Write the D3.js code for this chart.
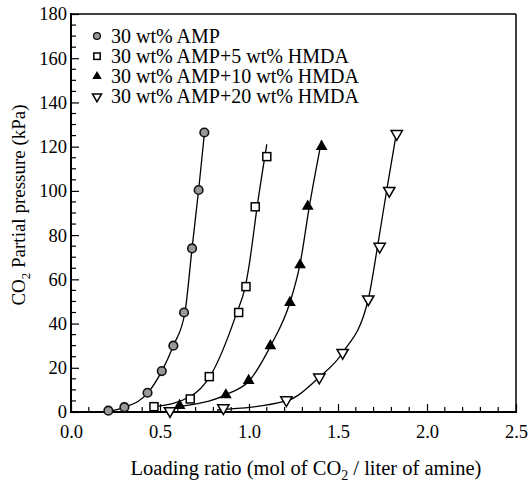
<!DOCTYPE html>
<html>
<head>
<meta charset="utf-8">
<script src="https://cdn.jsdelivr.net/npm/d3@7"></script>
<style>
body { margin:0; background:#fff; }
text { font-family:"Liberation Serif","Times New Roman",serif; fill:#000; }
</style>
</head>
<body>
<svg id="chart" width="529" height="485"></svg>
<script>
var ampX=[0.21,0.30,0.43,0.51,0.575,0.635,0.68,0.717,0.749];
var ampY=[0.6,2.2,8.7,18.5,30,45,74,100.4,126.4];
var hmda5X=[0.466,0.67,0.777,0.942,0.983,1.035,1.10];
var hmda5Y=[2.4,5.9,16,45,56.7,92.8,115.5];
var hmda10X=[0.61,0.87,0.998,1.12,1.23,1.287,1.33,1.408];
var hmda10Y=[2.9,7.7,14.2,29.9,49.5,66.5,93,120];
var hmda20X=[0.556,0.856,1.21,1.395,1.526,1.67,1.734,1.788,1.83];
var hmda20Y=[0.5,1.8,5.4,15.7,26.8,51,74.8,100.1,125.8];
// fitted curves
var ampFitX=[0.21,0.30,0.43,0.51,0.575,0.64,0.68,0.717,0.752];
var ampFitY=[0.3,2.1,8.5,18.5,30,45,74,100.4,128];
var hmda5FitX=[0.47,0.67,0.78,0.93,0.98,1.0,1.046,1.10];
var hmda5FitY=[2.4,7,16,44.6,57,66,93,121];
var hmda10FitX=[0.60,0.875,1.0,1.122,1.23,1.287,1.339,1.408];
var hmda10FitY=[2.4,8,14,30,49.5,67,93,123];
var hmda20FitX=[0.82,1.21,1.395,1.526,1.67,1.722,1.773,1.83];
var hmda20FitY=[0.9,5,15.7,26.8,51,74.8,100,127];
var seriesNames=["30 wt% AMP","30 wt% AMP+5 wt% HMDA","30 wt% AMP+10 wt% HMDA","30 wt% AMP+20 wt% HMDA"];
var xTicks=[0,0.5,1.0,1.5,2.0,2.5];
var yTicks=[0,20,40,60,80,100,120,140,160,180];

var svg=d3.select("#chart");
var x=d3.scaleLinear().domain([0,2.5]).range([71,516]);
var y=d3.scaleLinear().domain([0,180]).range([412,14]);

function pairs(xs,ys) {
  var out=[];
  for(var i=0;i<xs.length;i++) out.push({x:xs[i],y:ys[i]});
  return out;
}
var series=[
  {name:seriesNames[0], pts:pairs(ampX,ampY), fit:pairs(ampFitX,ampFitY), mark:"circle"},
  {name:seriesNames[1], pts:pairs(hmda5X,hmda5Y), fit:pairs(hmda5FitX,hmda5FitY), mark:"square"},
  {name:seriesNames[2], pts:pairs(hmda10X,hmda10Y), fit:pairs(hmda10FitX,hmda10FitY), mark:"tri"},
  {name:seriesNames[3], pts:pairs(hmda20X,hmda20Y), fit:pairs(hmda20FitX,hmda20FitY), mark:"itri"}
];

// axes, ticks pointing in
var xAxis=d3.axisBottom(x).tickValues(xTicks).tickSize(-8).tickPadding(13).tickFormat(d3.format(".1f"));
var gx=svg.append("g").attr("transform","translate(0,412)").call(xAxis);
var yAxis=d3.axisLeft(y).tickValues(yTicks).tickSize(-8).tickPadding(4).tickFormat(d3.format("d"));
var gy=svg.append("g").attr("transform","translate(71,0)").call(yAxis);
[gx,gy].forEach(function(g){
  g.select(".domain").remove();
  g.selectAll(".tick line").attr("stroke","#000").attr("stroke-width",1.2);
  g.selectAll(".tick text").style("font-size","18.5px").attr("fill","#000");
});

// minor ticks
var xMinor=d3.range(0.1,2.5,0.1).filter(function(v){ return Math.abs(v*2-Math.round(v*2))>1e-6; });
svg.append("g").selectAll("line").data(xMinor).enter().append("line")
   .attr("x1",function(d){return x(d);}).attr("x2",function(d){return x(d);})
   .attr("y1",412).attr("y2",407).attr("stroke","#000").attr("stroke-width",1.2);
var yMinor=d3.range(5,180,5).filter(function(v){ return v%20!==0; });
svg.append("g").selectAll("line").data(yMinor).enter().append("line")
   .attr("x1",71).attr("x2",76)
   .attr("y1",function(d){return y(d);}).attr("y2",function(d){return y(d);})
   .attr("stroke","#000").attr("stroke-width",1.2);

// frame
svg.append("line").attr("x1",71).attr("x2",516).attr("y1",14).attr("y2",14).attr("stroke","#000").attr("stroke-width",1.5);
svg.append("line").attr("x1",516).attr("x2",516).attr("y1",14).attr("y2",412).attr("stroke","#000").attr("stroke-width",1.5);
svg.append("line").attr("x1",71).attr("x2",71).attr("y1",13).attr("y2",413).attr("stroke","#000").attr("stroke-width",2);
svg.append("line").attr("x1",70).attr("x2",517).attr("y1",412).attr("y2",412).attr("stroke","#000").attr("stroke-width",2);

// fitted curves
var line=d3.line().x(function(d){return x(d.x);}).y(function(d){return y(d.y);}).curve(d3.curveMonotoneX);
svg.append("g").selectAll("path").data(series).enter().append("path")
   .attr("d",function(d){return line(d.fit);})
   .attr("fill","none").attr("stroke","#000").attr("stroke-width",1.3);

function drawMark(g,type,cx,cy,k) {
  if(type==="circle") {
    g.append("circle").attr("cx",cx).attr("cy",cy).attr("r",4.3*k)
     .attr("fill","#999").attr("stroke","#111").attr("stroke-width",1.6*k);
  } else if(type==="square") {
    g.append("rect").attr("x",cx-4*k).attr("y",cy-4*k).attr("width",8*k).attr("height",8*k)
     .attr("fill","#fff").attr("stroke","#000").attr("stroke-width",1.5);
  } else if(type==="tri") {
    g.append("path").attr("d",d3.symbol().type(d3.symbolTriangle).size(60*k*k)())
     .attr("transform","translate("+cx+","+cy+")").attr("fill","#000");
  } else {
    g.append("path").attr("d",d3.symbol().type(d3.symbolTriangle).size(55*k*k)())
     .attr("transform","translate("+cx+","+cy+") rotate(180)")
     .attr("fill","#fff").attr("stroke","#000").attr("stroke-width",1.5);
  }
}

var marks=svg.append("g");
series.forEach(function(s){
  s.pts.forEach(function(p){ drawMark(marks,s.mark,x(p.x),y(p.y),1); });
});

// legend
var leg=svg.append("g");
series.forEach(function(s,i){
  var ly=36+i*20.2;
  drawMark(leg,s.mark,97,ly,0.8);
  leg.append("text").attr("x",111).attr("y",ly+6.5).style("font-size","20px").text(s.name);
});

// axis titles
var xt=svg.append("text").attr("x",306).attr("y",475).attr("text-anchor","middle").style("font-size","20.5px");
xt.append("tspan").text("Loading ratio (mol of CO");
xt.append("tspan").attr("dy",5).style("font-size","14px").text("2");
xt.append("tspan").attr("dy",-5).text(" / liter of amine)");

var yt=svg.append("text").attr("transform","translate(25,205) rotate(-90)").attr("text-anchor","middle").style("font-size","19px");
yt.append("tspan").text("CO");
yt.append("tspan").attr("dy",5).style("font-size","13px").text("2");
yt.append("tspan").attr("dy",-5).text(" Partial pressure (kPa)");
</script>
</body>
</html>
